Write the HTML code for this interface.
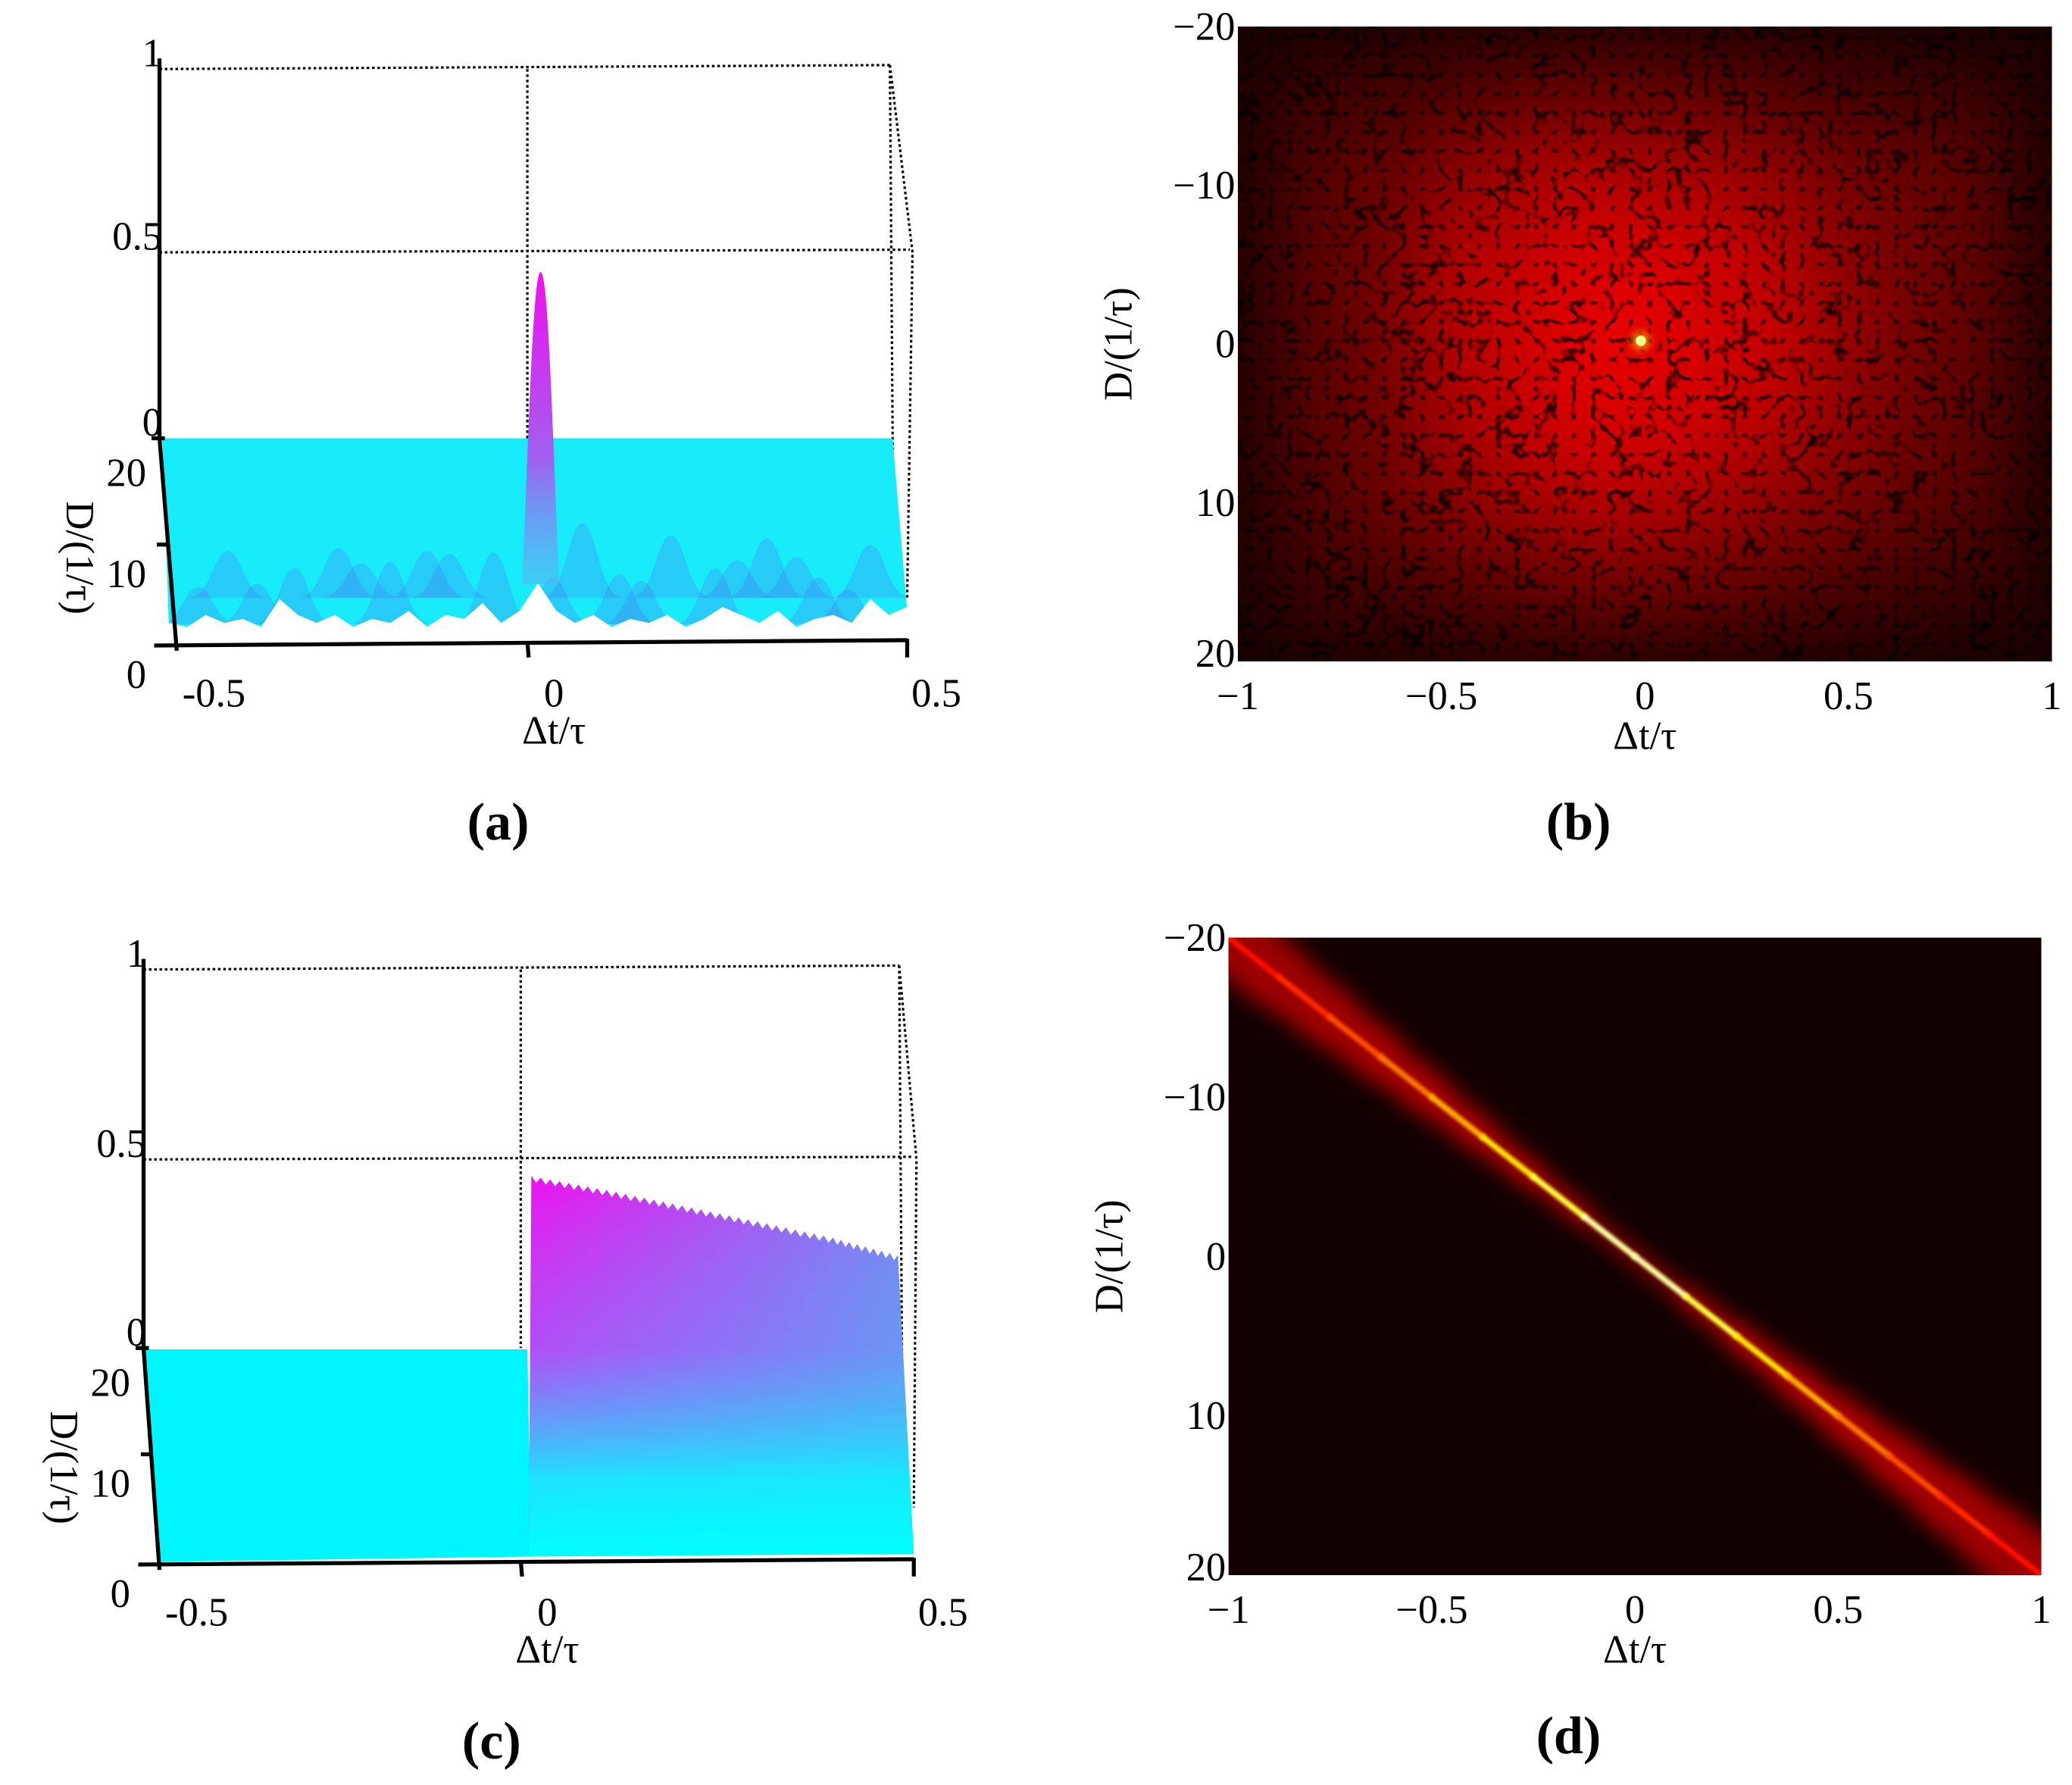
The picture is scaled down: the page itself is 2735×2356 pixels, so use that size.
<!DOCTYPE html>
<html><head><meta charset="utf-8">
<style>
html,body{margin:0;padding:0;background:#fff;}
svg{display:block;}
text{font-family:"Liberation Serif",serif;fill:#000;}
</style></head>
<body>
<svg id="fig" width="2735" height="2356" viewBox="0 0 1560 1344" xmlns="http://www.w3.org/2000/svg">
<defs>
<linearGradient id="gradPeak" x1="0" y1="0" x2="0" y2="1">
<stop offset="0" stop-color="#f010f0"/><stop offset="0.6" stop-color="#a060f0"/><stop offset="1" stop-color="#60b0f0" stop-opacity="0.5"/>
</linearGradient>
<linearGradient id="gradWedgeH" x1="0" y1="0" x2="1" y2="0">
<stop offset="0" stop-color="#f010f0"/><stop offset="1" stop-color="#8080f0"/>
</linearGradient>
<linearGradient id="gradWedgeV" x1="0" y1="0" x2="0" y2="1">
<stop offset="0" stop-color="#00ffff" stop-opacity="0"/><stop offset="0.45" stop-color="#40c0ff" stop-opacity="0.35"/><stop offset="0.8" stop-color="#10f0ff" stop-opacity="0.95"/><stop offset="1" stop-color="#00ffff"/>
</linearGradient>
<filter id="blurB" x="-20%" y="-20%" width="140%" height="140%"><feGaussianBlur stdDeviation="22"/></filter>
<filter id="blurS" x="-50%" y="-50%" width="200%" height="200%"><feGaussianBlur stdDeviation="3"/></filter>
<filter id="blurC" x="-20%" y="-20%" width="140%" height="140%"><feGaussianBlur stdDeviation="1.2"/></filter>
<filter id="blurD" x="-20%" y="-20%" width="140%" height="140%"><feGaussianBlur stdDeviation="8"/></filter>
<filter id="speckle" x="0" y="0" width="100%" height="100%">
<feTurbulence type="turbulence" baseFrequency="0.07" numOctaves="2" seed="3"/>
<feColorMatrix type="matrix" values="0 0 0 0 0  0 0 0 0 0  0 0 0 0 0  -3.5 -3.5 0 0 1.4"/>
</filter>
<clipPath id="clipB"><rect x="932" y="20" width="613" height="478"/></clipPath>
<clipPath id="clipD"><rect x="925" y="706" width="612" height="480"/></clipPath>
<clipPath id="clipA"><path id="clipApath" d=""/></clipPath>
</defs>
<g id="root"></g>
</svg>
<script>
// ---------- data ----------
const aFrontDt = [-0.5,-0.475,-0.45,-0.425,-0.4,-0.375,-0.35,-0.325,-0.3,-0.275,-0.25,-0.225,-0.2,-0.175,-0.15,-0.125,-0.1,-0.075,-0.05,-0.025,0,0.025,0.05,0.075,0.1,0.125,0.15,0.175,0.2,0.225,0.25,0.275,0.3,0.325,0.35,0.375,0.4,0.425,0.45,0.475,0.5];
const aFrontLevel = [0.03,0.02,0.05,0.03,0.04,0.02,0.09,0.05,0.03,0.05,0.02,0.04,0.03,0.06,0.02,0.05,0.04,0.08,0.03,0.06,0.13,0.06,0.03,0.05,0.02,0.04,0.03,0.05,0.02,0.04,0.07,0.05,0.03,0.06,0.02,0.04,0.05,0.03,0.09,0.05,0.07];
const aBumpDt = [-0.42,-0.33,-0.27,-0.2,-0.12,-0.06,0.06,0.11,0.18,0.24,0.31,0.38,0.45,-0.38,-0.15,0.14,0.35,-0.46,-0.24,0.02,0.27,0.42];
const aBumpZ  = [0.30,0.36,0.32,0.40,0.28,0.46,0.48,0.32,0.40,0.36,0.38,0.30,0.34,0.26,0.30,0.28,0.26,0.24,0.22,0.30,0.24,0.22];
const aPeakDt = 0.0;
const aPeakZ = 0.45;
const cTopDt = [0,0.1,0.2,0.3,0.4,0.5];
const cTopZ  = [0.455,0.418,0.377,0.335,0.292,0.246];
const bGrid = [
[0.05,0.08,0.10,0.12,0.14,0.15,0.15,0.14,0.12,0.10,0.08,0.06,0.05],
[0.08,0.16,0.18,0.22,0.28,0.30,0.30,0.28,0.24,0.20,0.18,0.16,0.08],
[0.10,0.22,0.26,0.36,0.44,0.48,0.46,0.44,0.38,0.30,0.26,0.24,0.10],
[0.12,0.24,0.30,0.46,0.52,0.58,0.56,0.54,0.48,0.38,0.30,0.26,0.12],
[0.12,0.24,0.32,0.50,0.56,0.62,0.64,0.58,0.54,0.42,0.32,0.26,0.12],
[0.12,0.24,0.32,0.50,0.58,0.64,0.66,0.60,0.56,0.44,0.32,0.26,0.12],
[0.12,0.24,0.32,0.48,0.56,0.62,0.62,0.58,0.52,0.42,0.30,0.24,0.12],
[0.12,0.22,0.30,0.42,0.50,0.56,0.56,0.52,0.46,0.38,0.28,0.24,0.10],
[0.10,0.20,0.26,0.34,0.40,0.46,0.46,0.42,0.36,0.30,0.24,0.20,0.10],
[0.08,0.16,0.18,0.22,0.26,0.30,0.30,0.28,0.24,0.20,0.16,0.14,0.08],
[0.05,0.08,0.10,0.12,0.14,0.16,0.16,0.14,0.12,0.10,0.08,0.06,0.05]];
const bPeakDt = -0.01, bPeakD = -0.2;
const dRidgeD   = [-20,-17.5,-15,-12.5,-10,-7.5,-5,-2.5,0,2.5,5,7.5,10,12.5,15,17.5,20];
const dRidgeDt  = [-1,-0.875,-0.75,-0.625,-0.5,-0.375,-0.25,-0.125,0,0.125,0.25,0.375,0.5,0.625,0.75,0.875,1];
const dRidgeInt = [0.45,0.5,0.56,0.62,0.7,0.8,0.88,0.95,1,0.95,0.88,0.8,0.7,0.62,0.56,0.5,0.45];
const zTicks = ["1","0.5","0"];
const dTicks3d = ["20","10","0"];
const xTicks3d = ["-0.5","0","0.5"];
const mapYTicks = [-20,-10,0,10,20];
const mapXTicks = [-1,-0.5,0,0.5,1];

// ---------- helpers ----------
const NS = "http://www.w3.org/2000/svg";
const root = document.getElementById('root');
function mk(tag, attrs, parent){
  const e = document.createElementNS(NS, tag);
  for (const k in attrs) e.setAttribute(k, attrs[k]);
  (parent||root).appendChild(e);
  return e;
}
function txt(s, x, y, size, anchor, parent, extra){
  const e = mk('text', Object.assign({x:x, y:y, 'font-size':size, 'text-anchor':anchor||'middle'}, extra||{}), parent);
  e.textContent = s;
  return e;
}
function hot(t){
  t = Math.max(0, Math.min(1, t));
  const r = Math.min(1, 0.06 + t/0.45);
  const g = Math.max(0, Math.min(1, (t-0.45)/0.4));
  const b = Math.max(0, (t-0.85)/0.15);
  return 'rgb(' + Math.round(r*255) + ',' + Math.round(g*255) + ',' + Math.round(b*255) + ')';
}
const FS = 30;

// ---------- 3D panel builder ----------
function panel3d(P, name){
  const g = mk('g', {});
  
  
  const dot = {stroke:'#000','stroke-width':1.8,'stroke-dasharray':'2 2',fill:'none'};
  let l;
  l = mk('line', Object.assign({x1:P.ax, y1:P.z1, x2:P.rx1, y2:P.z1-3}, dot), g);
  
  
  l = mk('line', Object.assign({x1:P.ax, y1:P.zh, x2:P.rx2, y2:P.zh-2}, dot), g);
  
  
  l = mk('line', Object.assign({x1:P.cx0, y1:P.z1, x2:P.cx0, y2:P.z0}, dot), g);
  
  
  l = mk('path', Object.assign({d:'M'+P.rx1+' '+(P.z1-3)+' L'+(P.rx2+2)+' '+(P.zh)+' L'+(P.fx1)+' '+(P.z0+120)+' M'+P.rx1+' '+(P.z1-3)+' L'+(P.rx1+3)+' '+(P.z0+130)}, dot), g);
  
  
  P.drawSurface(g);
  const ax = {stroke:'#000','stroke-width':3,fill:'none'};
  l = mk('path', Object.assign({d:'M'+P.ax+' '+(P.z1-8)+' L'+P.ax+' '+P.z0+' L'+(P.fx0)+' '+(P.fy+6)}, ax), g);
  
  
  l = mk('line', Object.assign({x1:P.ax-4, y1:P.fy+2, x2:P.fx1, y2:P.fy-2}, ax), g);
  
  
  l = mk('path', Object.assign({d:'M'+P.cx0+' '+(P.fy-1)+' l1 '+12+' M'+P.fx1+' '+(P.fy-3)+' l0 14 M'+(P.ax+6)+' '+(P.z0+80)+' l-8 0 M'+(P.ax-6)+' '+P.z0+' l10 0'}, ax), g);
  
  
  const zy = [P.z1-2, P.zh-2, P.z0-2];
  zTicks.forEach((s,i)=>{
    const t = txt(s, P.ax+2, zy[i], FS, 'end', g);
    
    
  });
  const dy = [P.z0+36, P.z0+112, P.fy+34];
  dTicks3d.forEach((s,i)=>{
    const t = txt(s, P.ax-10, dy[i], FS, 'end', g);
    
    
  });
  const xx = [P.fx0+28, P.cx0+20, P.fx1+22];
  xTicks3d.forEach((s,i)=>{
    const t = txt(s, xx[i], P.fy+48, FS, 'middle', g);
    
    
  });
  let t = txt('Δt/τ', P.cx0+20, P.fy+76, FS, 'middle', g);
  
  
  t = txt('D/(1/τ)', 0, 0, FS, 'middle', g, {transform:'translate('+(P.ax-70)+','+(P.z0+90)+') rotate(90)'});
  
  
  t = txt(P.label, P.cx0-22, P.fy+148, 40, 'middle', g, {'font-weight':'bold'});
  
  
}

// ---------- panel (a) ----------
const PA = {ax:120, z1:52, zh:190, z0:330, fy:484, fx0:133, fx1:683, cx0:397, rx1:670, rx2:685, label:'(a)'};
PA.X = dt => 127 + (dt+0.5)*(683-127);
PA.Z = z => PA.z0 - z*(PA.z0-PA.z1);
PA.drawSurface = function(g){
  let d = 'M122 330 L672 330 L683 460';
  for (let i=aFrontDt.length-1;i>=0;i--){
    d += ' L' + PA.X(aFrontDt[i]).toFixed(1) + ' ' + (478 - aFrontLevel[i]*300).toFixed(1);
  }
  d += ' Z';
  document.getElementById('clipApath').setAttribute('d', d);
  const s = mk('path', {d:d, fill:'#18ecfa'}, g);
  
  
  const bg = mk('g', {'clip-path':'url(#clipA)'}, g);
  aBumpDt.forEach((dt,i)=>{
    const cx = PA.X(dt), base = (i%2 ? 470 : 450), h = aBumpZ[i]*278*0.42, w = 18;
    const b = mk('path', {d:'M'+(cx-w*1.7)+' '+base+' C'+(cx-w*0.7)+' '+base+' '+(cx-w*0.6)+' '+(base-h)+' '+cx+' '+(base-h)+' C'+(cx+w*0.6)+' '+(base-h)+' '+(cx+w*0.7)+' '+base+' '+(cx+w*1.7)+' '+base+' Z', fill:'#4a78f0', opacity:0.28}, bg);
    
    
  });
  const cx = PA.X(aPeakDt)+2, top = PA.Z(aPeakZ);
  const p = mk('path', {d:'M'+(cx-14)+' 440 C'+(cx-9)+' 330 '+(cx-6)+' '+top+' '+cx+' '+top+' C'+(cx+6)+' '+top+' '+(cx+9)+' 330 '+(cx+14)+' 440 Z', fill:'url(#gradPeak)'}, g);
  
  
};
panel3d(PA, 'panel-a');

// ---------- panel (c) ----------
const PC = {ax:108, z1:730, zh:873, z0:1015, fy:1176, fx0:120, fx1:688, cx0:392, rx1:677, rx2:688, label:'(c)'};
PC.X = dt => 120 + (dt+0.5)*(688-120) - 10;
PC.Z = z => PC.z0 - z*(PC.z0-PC.z1);
PC.drawSurface = function(g){
  const s = mk('path', {d:'M108 1016 L397 1016 L400 1172 L118 1176 Z', fill:'#00f6ff'}, g);
  
  
  let d = 'M398 1172 L' + (PC.X(cTopDt[0])+6) + ' ' + PC.Z(cTopZ[0]).toFixed(1);
  for (let i=1;i<cTopDt.length;i++){
    const x0 = PC.X(cTopDt[i-1])+6, x1 = PC.X(cTopDt[i])+(i===cTopDt.length-1?-2:6);
    const y0 = PC.Z(cTopZ[i-1]), y1 = PC.Z(cTopZ[i]);
    for (let k=1;k<=8;k++){
      const f=k/8;
      d += ' L' + (x0+(x1-x0)*(f-0.06)).toFixed(1) + ' ' + (y0+(y1-y0)*f+4).toFixed(1);
      d += ' L' + (x0+(x1-x0)*f).toFixed(1) + ' ' + (y0+(y1-y0)*f).toFixed(1);
    }
  }
  d += ' L688 1170 Z';
  const w = mk('path', {d:d, fill:'url(#gradWedgeH)'}, g);
  
  
  const w2 = mk('path', {d:d, fill:'url(#gradWedgeV)'}, g);
  
  
};
panel3d(PC, 'panel-c');

// ---------- heatmap panels ----------
function mapAxes(g, x0, y0, w, h, label){
  const X = v => x0 + (v+1)/2*w;
  const Y = v => y0 + (v+20)/40*h;
  mapYTicks.forEach(v=>{
    const t = txt(v<0?'\u2212'+(-v):String(v), x0-2, Y(v)+(v===-20?10:v===20?4:10), FS, 'end', g);
    
    
  });
  mapXTicks.forEach(v=>{
    const t = txt(v<0?'\u2212'+(-v):String(v), X(v), y0+h+36, FS, 'middle', g);
    
    
  });
  let t = txt('Δt/τ', x0+w/2, y0+h+66, FS, 'middle', g);
  
  
  t = txt('D/(1/τ)', 0, 0, FS, 'middle', g, {transform:'translate('+(x0-80)+','+(y0+h/2)+') rotate(-90)'});
  
  
  t = txt(label, x0+w/2-50, y0+h+134, 40, 'middle', g, {'font-weight':'bold'});
  
  
  return {X, Y};
}

// panel (b)
(function(){
  const g = mk('g', {});
  
  
  const x0=932, y0=20, w=613, h=478;
  const bg = mk('rect', {x:x0, y:y0, width:w, height:h, fill:'#120000'}, g);
  
  
  const cl = mk('g', {'clip-path':'url(#clipB)'}, g);
  const bl = mk('g', {filter:'url(#blurB)'}, cl);
  const rows = bGrid.length, cols = bGrid[0].length;
  bGrid.forEach((row,r)=>row.forEach((v,c)=>{
    const cell = mk('rect', {x:x0+c*w/cols, y:y0+r*h/rows, width:w/cols+1, height:h/rows+1, fill:hot(v*0.58)}, bl);
    
    
  }));
  const sp = mk('rect', {x:x0, y:y0, width:w, height:h, filter:'url(#speckle)', opacity:0.85}, cl);
  
  
  const A = mapAxes(g, x0, y0, w, h, '(b)');
  const glow = mk('circle', {cx:A.X(bPeakDt), cy:A.Y(bPeakD), r:7, fill:'#ff8000', filter:'url(#blurS)'}, g);
  
  
  const sp2 = mk('circle', {cx:A.X(bPeakDt), cy:A.Y(bPeakD), r:4, fill:'#ffff90'}, g);
  
  
})();

// panel (d)
(function(){
  const g = mk('g', {});
  
  
  const x0=925, y0=706, w=612, h=480;
  const bg = mk('rect', {x:x0, y:y0, width:w, height:h, fill:'#120000'}, g);
  
  
  const A = mapAxes(g, x0, y0, w, h, '(d)');
  const cl = mk('g', {'clip-path':'url(#clipD)'}, g);
  const gl = mk('g', {filter:'url(#blurD)'}, cl);
  for (let i=0;i<dRidgeD.length-1;i++){
    const spread = 6 + Math.abs(dRidgeD[i]+dRidgeD[i+1])*1.2;
    const s = mk('line', {x1:A.X(dRidgeDt[i]), y1:A.Y(dRidgeD[i]), x2:A.X(dRidgeDt[i+1]), y2:A.Y(dRidgeD[i+1]), stroke:hot(0.2+dRidgeInt[i]*0.1), 'stroke-width':spread, 'stroke-linecap':'round'}, gl);
    
    
  }
  for (let i=0;i<dRidgeD.length-1;i++){
    const s = mk('line', {x1:A.X(dRidgeDt[i]), y1:A.Y(dRidgeD[i]), x2:A.X(dRidgeDt[i+1]), y2:A.Y(dRidgeD[i+1]), stroke:hot((dRidgeInt[i]+dRidgeInt[i+1])/2*0.97), 'stroke-width':4.5, 'stroke-linecap':'round', filter:'url(#blurC)'}, cl);
    
    
  }
})();
</script>
</body></html>
